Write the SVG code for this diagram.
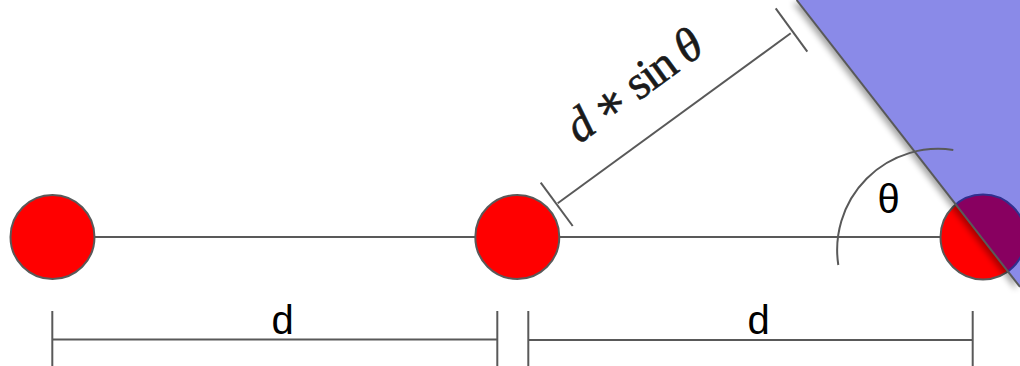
<svg xmlns="http://www.w3.org/2000/svg" width="1020" height="366" viewBox="0 0 1020 366">
<style>
.ln{stroke:#595959;stroke-width:2;fill:none;stroke-linecap:butt}
.ball{fill:#ff0000;stroke:#595959;stroke-width:2}
.lbl{font-family:"Liberation Sans",Arial,sans-serif;fill:#000;text-anchor:middle}
.math{font-family:"Liberation Serif","DejaVu Serif",serif;fill:#1a1a1a;text-anchor:middle}
</style>
<defs>
<clipPath id="planeClip"><polygon points="796.6,0 1020,0 1020,287"/></clipPath>
<filter id="blur" x="-20%" y="-20%" width="140%" height="140%"><feGaussianBlur stdDeviation="3"/></filter>
</defs>
<g id="connectors">
<line class="ln" x1="52.5" y1="237" x2="983" y2="237"/>
</g>
<g id="node-left"><circle class="ball" cx="52.5" cy="237" r="42"/></g>
<g id="node-middle"><circle class="ball" cx="517.3" cy="237" r="42"/></g>
<g id="node-right"><circle class="ball" cx="983" cy="237" r="42.5"/></g>
<g id="plane">
<polygon points="796.6,0 1020,0 1020,287" transform="translate(-4,3)" fill="#000" opacity="0.35" filter="url(#blur)"/>
<polygon points="796.6,0 1020,0 1020,287" fill="#8a8ae8"/>
<circle cx="983" cy="237" r="42.5" fill="#880060" stroke="#30308e" stroke-width="2" clip-path="url(#planeClip)"/>
<line class="ln" x1="796.6" y1="0" x2="1020" y2="287"/>
</g>
<g id="angle">
<path class="ln" d="M838.3 265 A101 101 0 0 1 953.3 150"/>
<text class="lbl" x="888.5" y="213" font-size="40">θ</text>
</g>
<g id="dim-sin">
<line class="ln" x1="557.7" y1="203.3" x2="790.7" y2="33.3"/>
<line class="ln" x1="540.7" y1="182.7" x2="572.7" y2="226"/>
<line class="ln" x1="775.7" y1="8.3" x2="807.3" y2="51.7"/>
<text class="math" font-size="48" stroke="#1a1a1a" stroke-width="0.6" transform="translate(643,98) rotate(-36.1)" textLength="158" lengthAdjust="spacing"><tspan font-style="italic">d</tspan> ∗ sin <tspan font-style="italic">θ</tspan></text>
</g>
<g id="dim-left">
<line class="ln" x1="52.3" y1="339.5" x2="497.3" y2="339.5"/>
<line class="ln" x1="52.3" y1="311" x2="52.3" y2="366"/>
<line class="ln" x1="497.3" y1="311" x2="497.3" y2="366"/>
<text class="lbl" x="282.5" y="334" font-size="40">d</text>
</g>
<g id="dim-right">
<line class="ln" x1="528.3" y1="340" x2="972.7" y2="340"/>
<line class="ln" x1="528.3" y1="311" x2="528.3" y2="366"/>
<line class="ln" x1="972.7" y1="311" x2="972.7" y2="366"/>
<text class="lbl" x="758.7" y="334" font-size="40">d</text>
</g>
</svg>
